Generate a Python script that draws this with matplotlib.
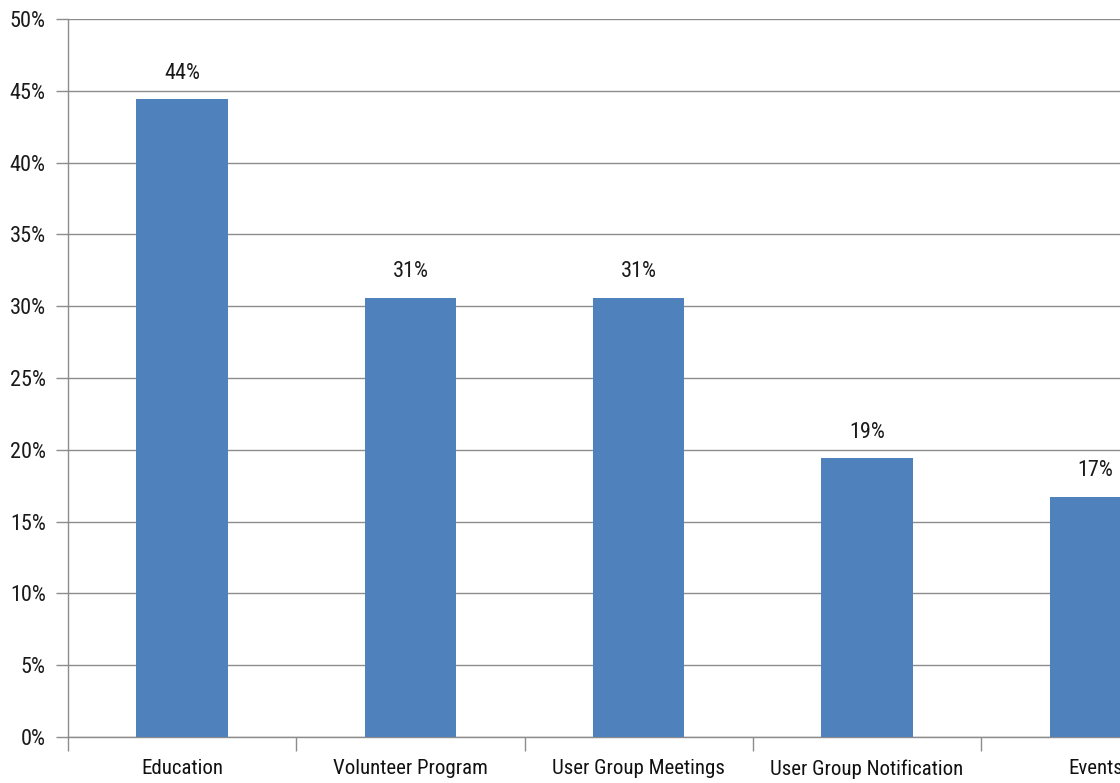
import matplotlib
matplotlib.use("Agg")
import matplotlib.pyplot as plt
from matplotlib import font_manager
from matplotlib.ticker import FixedLocator, PercentFormatter

categories = ["Education", "Volunteer Program", "User Group Meetings",
              "User Group Notification", "Events"]
shares = [0.444, 0.306, 0.306, 0.194, 0.167]
y_ticks = [0, 0.05, 0.10, 0.15, 0.20, 0.25, 0.30, 0.35, 0.40, 0.45, 0.50]

names = {f.name for f in font_manager.fontManager.ttflist}
family = next((n for n in ["Liberation Sans Narrow", "Roboto Condensed",
                           "Open Sans Condensed", "Liberation Sans"] if n in names),
              "DejaVu Sans")
plt.rcParams["font.family"] = [family, "DejaVu Sans"]

W, H = 1120, 783
fig = plt.figure(figsize=(W / 100, H / 100), dpi=100)
# plot area runs past the right edge of the figure
left, right, bottom, top = 68, 68 + 5 * 228.3, 783 - 737, 783 - 19
ax = fig.add_axes([left / W, bottom / H, (right - left) / W, (top - bottom) / H])

color = "#4F81BD"
grey = "#8C8C8C"
fs = 16
x = range(len(categories))
ax.bar(x, shares, width=0.40, color=color, zorder=3)
for xi, v in zip(x, shares):
    ax.text(xi, v + 0.011, f"{round(v * 100):.0f}%", ha="center", va="bottom",
            fontsize=fs, color="#1a1a1a")

ax.set_xlim(-0.5, len(categories) - 0.5)
ax.set_ylim(0, 0.50)
ax.set_yticks(y_ticks)
ax.yaxis.set_major_formatter(PercentFormatter(1.0, decimals=0))
ax.set_xticks(list(x))
ax.set_xticklabels(categories)
ax.xaxis.set_minor_locator(FixedLocator([i + 0.5 for i in range(-1, len(categories))]))
ax.tick_params(axis="x", which="major", length=0, pad=16, labelsize=15, labelcolor="#111111")
ax.tick_params(axis="x", which="minor", length=10, width=1, color=grey, direction="out")
ax.tick_params(axis="y", length=9, width=1, color=grey, labelsize=fs, labelcolor="#1a1a1a", pad=7)

ax.grid(axis="y", color=grey, linewidth=1, zorder=0)
for s in ["top", "right"]:
    ax.spines[s].set_visible(False)
for s in ["left", "bottom"]:
    ax.spines[s].set_color(grey)
    ax.spines[s].set_linewidth(1)

fig.savefig("out.png", dpi=100)
